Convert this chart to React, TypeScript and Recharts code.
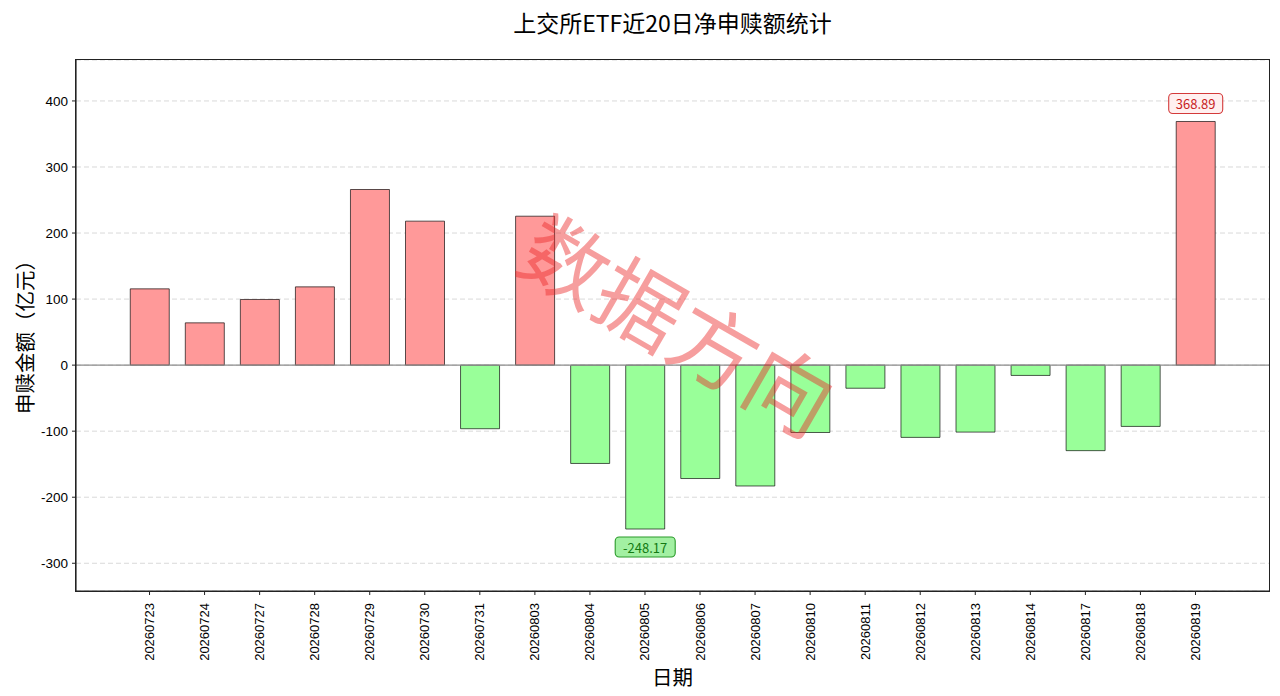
import React from 'react';
import { BarChart, Bar, XAxis, YAxis, CartesianGrid, ReferenceLine, Cell, LabelList } from 'recharts';

const dates = [
  '20260723', '20260724', '20260727', '20260728', '20260729', '20260730', '20260731',
  '20260803', '20260804', '20260805', '20260806', '20260807', '20260810', '20260811',
  '20260812', '20260813', '20260814', '20260817', '20260818', '20260819',
];
const netValues = [
  115.5, 64, 99.4, 118.5, 265.9, 218, -96.3,
  225.5, -148.9, -248.17, -171.7, -183, -102, -35,
  -109.4, -101.4, -15.6, -129.5, -92.8, 368.89,
];
const yTicks = [-300, -200, -100, 0, 100, 200, 300, 400];
const yDomain: [number, number] = [-342, 462];

const titleText = '上交所ETF近20日净申赎额统计';
const xLabelText = '日期';
const yLabelText = '申赎金额（亿元）';
const watermarkText = '数据方向';

const data = dates.map((d, i) => ({ date: d, value: netValues[i] }));
const maxIdx = netValues.indexOf(Math.max(...netValues));
const minIdx = netValues.indexOf(Math.min(...netValues));

const CJK = '"Noto Sans CJK SC", "Noto Sans", sans-serif';
const LATIN = '"Liberation Sans", Arial, sans-serif';

const W = 1280;
const H = 696;
const M = { top: 60, right: 11, bottom: 0, left: 0 };
const Y_AXIS_W = 76;
const X_AXIS_H = 105;
const plotLeft = M.left + Y_AXIS_W;
const plotTop = M.top;
const plotW = W - plotLeft - M.right;
const plotH = H - M.top - M.bottom - X_AXIS_H;
const plotCenterX = plotLeft + plotW / 2;

const XTick = (props: any) => {
  const { x, y, payload } = props;
  return (
    <text
      transform={`translate(${x},${y}) rotate(-90)`}
      textAnchor="end"
      dominantBaseline="central"
      fontFamily={LATIN}
      fontSize={13}
      fill="#000"
    >
      {payload.value}
    </text>
  );
};

const ExtremeLabel = (props: any) => {
  const { x, y, width, height, index, value } = props;
  if (index !== maxIdx && index !== minIdx) return null;
  const isMax = index === maxIdx;
  const cx = Number(x) + Number(width) / 2;
  const top = Math.min(Number(y), Number(y) + Number(height));
  const bottom = Math.max(Number(y), Number(y) + Number(height));
  const text = Number(value).toFixed(2);
  const boxW = isMax ? 54 : 60;
  const boxH = 20;
  const cy = isMax ? top - 18 : bottom + 18;
  return (
    <g>
      <rect
        x={cx - boxW / 2}
        y={cy - boxH / 2}
        width={boxW}
        height={boxH}
        rx={4}
        ry={4}
        fill={isMax ? '#fff0f0' : '#a2f0a2'}
        stroke={isMax ? '#d43a3a' : '#2a9a2a'}
        strokeWidth={1.1}
      />
      <text
        x={cx}
        y={cy}
        textAnchor="middle"
        dominantBaseline="central"
        fontFamily={CJK}
        fontSize={13}
        fill={isMax ? '#c81e1e' : '#137a13'}
      >
        {text}
      </text>
    </g>
  );
};

export default function App() {
  return (
    <div
      style={{
        position: 'absolute',
        left: 0,
        top: 0,
        width: W,
        height: H,
        background: '#fff',
        overflow: 'hidden',
      }}
    >
      <div
        style={{
          position: 'absolute',
          left: plotCenterX - 400,
          width: 800,
          top: 7,
          textAlign: 'center',
          fontFamily: CJK,
          fontSize: 23,
          lineHeight: '30px',
          color: '#000',
        }}
      >
        {titleText}
      </div>
      <BarChart
        width={W}
        height={H}
        data={data}
        margin={M}
        barCategoryGap="15%"
      >
        <CartesianGrid
          vertical={false}
          stroke="#d9d9d9"
          strokeDasharray="5 3"
        />
        <XAxis
          dataKey="date"
          interval={0}
          height={X_AXIS_H}
          padding={{ left: 46, right: 46 }}
          tickSize={4}
          tickMargin={8}
          tick={<XTick />}
          axisLine={{ stroke: '#222', strokeWidth: 1.2 }}
          tickLine={{ stroke: '#222', strokeWidth: 1 }}
        />
        <YAxis
          type="number"
          domain={yDomain}
          ticks={yTicks}
          allowDataOverflow
          width={Y_AXIS_W}
          tickSize={4}
          tickMargin={4}
          tick={{ fill: '#000', fontSize: 13.5, fontFamily: LATIN }}
          axisLine={{ stroke: '#222', strokeWidth: 1.2 }}
          tickLine={{ stroke: '#222', strokeWidth: 1 }}
        />
        <ReferenceLine y={0} stroke="#8c8c8c" strokeWidth={1.2} />
        <Bar
          dataKey="value"
          isAnimationActive={false}
          stroke="#000"
          strokeOpacity={0.65}
          strokeWidth={1}
        >
          {data.map((d, i) => (
            <Cell key={i} fill={d.value >= 0 ? '#ff9999' : '#99ff99'} />
          ))}
          <LabelList dataKey="value" content={<ExtremeLabel />} />
        </Bar>
      </BarChart>
      <div
        style={{
          position: 'absolute',
          left: plotLeft - 0.6,
          top: plotTop - 0.6,
          width: plotW + 1.2,
          height: plotH + 1.2,
          boxSizing: 'border-box',
          border: '1.2px solid #222',
          pointerEvents: 'none',
        }}
      />
      <div
        style={{
          position: 'absolute',
          left: plotCenterX - 100,
          width: 200,
          top: 663,
          textAlign: 'center',
          fontFamily: CJK,
          fontSize: 20.5,
          lineHeight: '26px',
          color: '#000',
        }}
      >
        {xLabelText}
      </div>
      <div
        style={{
          position: 'absolute',
          left: 24,
          top: 332,
          transform: 'translate(-50%, -50%) rotate(-90deg)',
          fontFamily: CJK,
          fontSize: 20.5,
          lineHeight: '24px',
          whiteSpace: 'nowrap',
          color: '#000',
        }}
      >
        {yLabelText}
      </div>
      <div
        style={{
          position: 'absolute',
          left: 680,
          top: 322,
          transform: 'translate(-50%, -50%) rotate(30deg)',
          fontFamily: CJK,
          fontSize: 86,
          lineHeight: '86px',
          whiteSpace: 'nowrap',
          color: 'rgba(235, 40, 40, 0.45)',
          pointerEvents: 'none',
        }}
      >
        {watermarkText}
      </div>
    </div>
  );
}
